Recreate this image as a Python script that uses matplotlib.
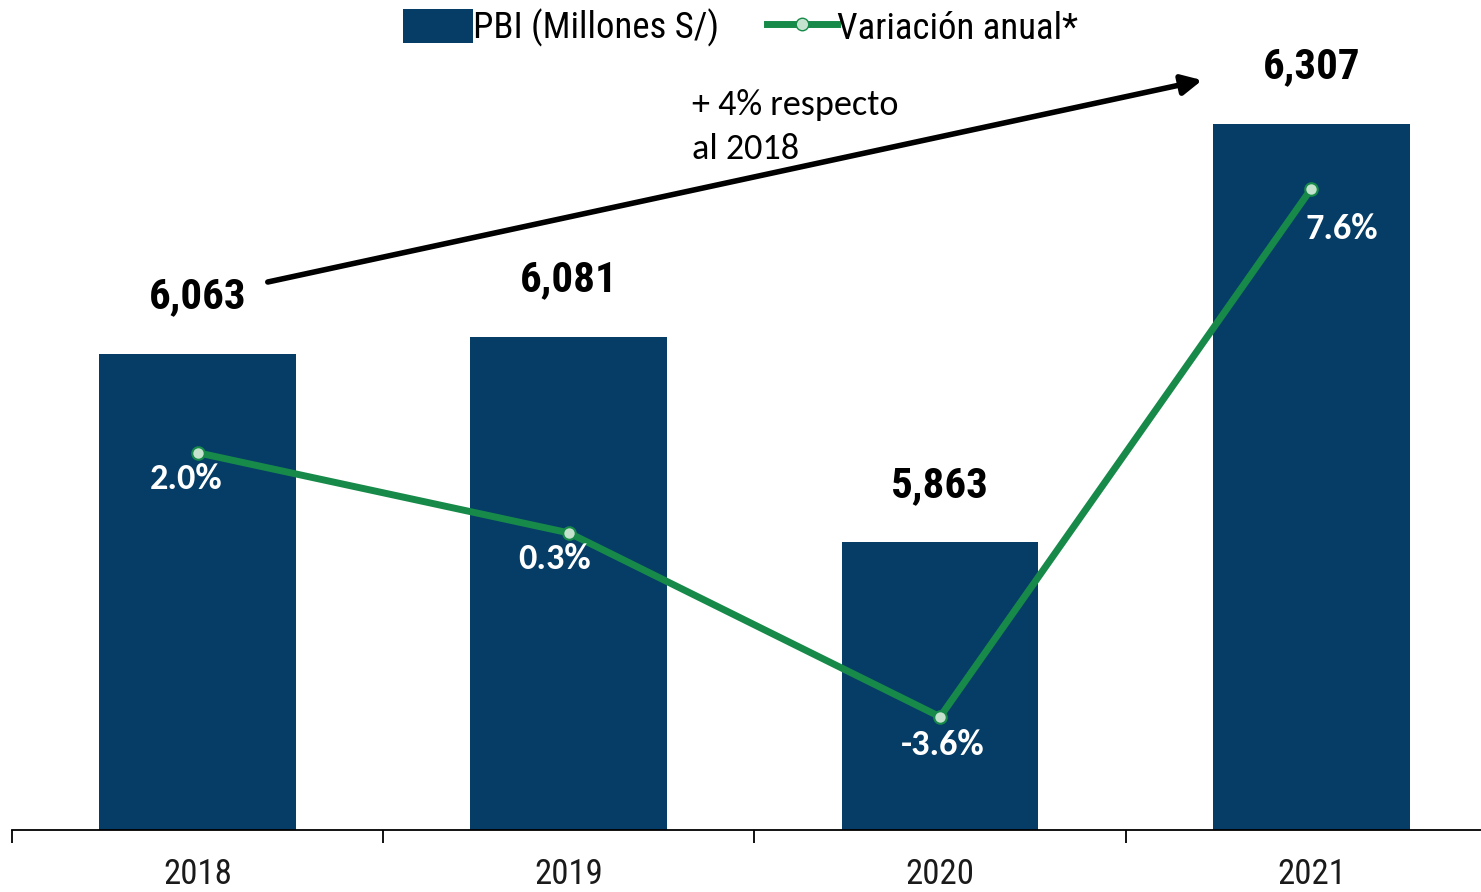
import matplotlib
matplotlib.use("Agg")
import matplotlib.pyplot as plt
from matplotlib.lines import Line2D
from matplotlib.patches import Patch

years = ["2018", "2019", "2020", "2021"]
pbi = [6063, 6081, 5863, 6307]
variacion = [2.0, 0.3, -3.6, 7.6]
pbi_labels = ["6,063", "6,081", "5,863", "6,307"]
var_labels = ["2.0%", "0.3%", "-3.6%", "7.6%"]

BAR_COLOR = "#063d66"
LINE_COLOR = "#178a4a"
MARKER_FACE = "#c4e2cd"
NARROW = ["Roboto Condensed", "Archivo Narrow", "DejaVu Sans"]
CALIBRI = ["Carlito", "Lato", "DejaVu Sans"]

fig = plt.figure(figsize=(14.81, 8.92), dpi=100)
ax = fig.add_axes([12 / 1481, 62 / 892, 1 - 12 / 1481, 830 / 892])
x = list(range(len(years)))

ax.bar(x, pbi, width=0.53, color=BAR_COLOR, zorder=2)
ax.set_xlim(-0.5, 3.457)
ax.set_ylim(5558, 6438)

for xi, v, lab in zip(x, pbi, pbi_labels):
    ax.annotate(lab, (xi, v), xytext=(0, 41), textcoords="offset points",
                ha="center", va="center", fontsize=31, fontweight="bold",
                family=NARROW, color="black")

# axis styling
for s in ["top", "right", "left"]:
    ax.spines[s].set_visible(False)
ax.spines["bottom"].set_linewidth(1.3)
ax.set_yticks([])
ax.set_xticks(x)
ax.set_xticklabels(years, fontsize=25, family=NARROW, color="#1a1a1a")
ax.tick_params(axis="x", which="major", length=0, pad=20)
ax.set_xticks([-0.5, 0.5, 1.5, 2.5], minor=True)
ax.tick_params(axis="x", which="minor", length=9, width=1.3, direction="out")

# secondary axis: annual variation
ax2 = ax.twinx()
ax2.set_ylim(-6.0, 11.6)
ax2.plot(x, variacion, color=LINE_COLOR, lw=5, marker="o", markersize=9,
         markerfacecolor=MARKER_FACE, markeredgecolor=LINE_COLOR,
         markeredgewidth=1.5, zorder=3)
ax2.axis("off")

offsets = [(-8, -19), (-10, -19), (2, -20), (22, -29)]
for xi, v, lab, off in zip(x, variacion, var_labels, offsets):
    ax2.annotate(lab, (xi, v), xytext=off, textcoords="offset points",
                 ha="center", va="center", fontsize=26, fontweight="bold",
                 family=CALIBRI, color="white")

# growth arrow 2018 -> 2021
ax.annotate("", xy=(2.706, 6353), xytext=(0.189, 6139),
            arrowprops=dict(arrowstyle="-|>", color="black", lw=4,
                            mutation_scale=30, shrinkA=0, shrinkB=0))
fig.text(692 / 1481, 1 - 127 / 892, "+ 4% respecto\nal 2018", fontsize=26,
         family=CALIBRI, ha="left", va="center", linespacing=1.45)

handles = [Patch(facecolor=BAR_COLOR, label="PBI (Millones S/)"),
           Line2D([], [], color=LINE_COLOR, lw=5, marker="o", markersize=9,
                  markerfacecolor=MARKER_FACE, markeredgecolor=LINE_COLOR,
                  label="Variación anual*")]
fig.legend(handles=handles, loc="center", bbox_to_anchor=(0.5, 1 - 28 / 892),
           ncol=2, frameon=False, prop={"family": NARROW, "size": 26.5},
           handlelength=1.9, handleheight=1.06, handletextpad=0.0,
           columnspacing=1.3, borderpad=0.0)

fig.savefig("out.png", dpi=100)
